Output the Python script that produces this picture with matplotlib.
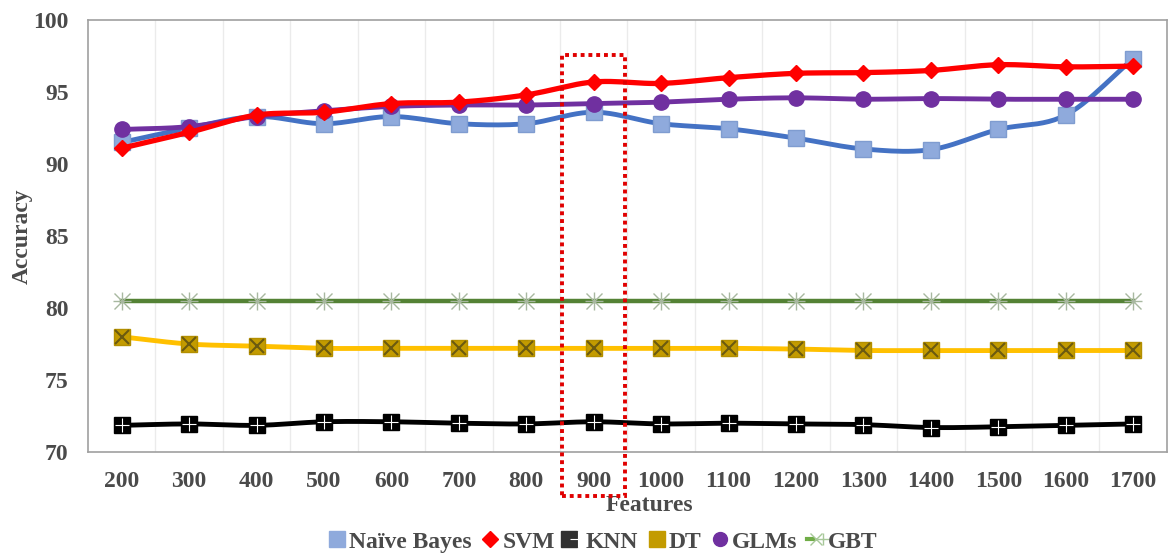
import numpy as np
import matplotlib.pyplot as plt
from matplotlib.lines import Line2D
from matplotlib.patches import Rectangle
from matplotlib.legend_handler import HandlerTuple

# -----------------------------
# Data
# -----------------------------
features = [200, 300, 400, 500, 600, 700, 800, 900, 1000, 1100, 1200, 1300, 1400, 1500, 1600, 1700]
naive_bayes = [91.5, 92.5, 93.3, 92.8, 93.3, 92.8, 92.8, 93.6, 92.8, 92.45, 91.8, 91.05, 91.0, 92.4, 93.4, 97.3]
svm = [91.1, 92.2, 93.4, 93.6, 94.2, 94.3, 94.8, 95.7, 95.6, 96.0, 96.3, 96.35, 96.5, 96.9, 96.75, 96.8]
knn = [71.85, 71.95, 71.85, 72.1, 72.1, 72.0, 71.95, 72.1, 71.95, 72.0, 71.95, 71.9, 71.7, 71.75, 71.85, 71.95]
dt = [78.0, 77.5, 77.35, 77.2, 77.2, 77.2, 77.2, 77.2, 77.2, 77.2, 77.15, 77.05, 77.05, 77.05, 77.05, 77.05]
glms = [92.4, 92.6, 93.3, 93.7, 94.0, 94.1, 94.1, 94.2, 94.3, 94.5, 94.6, 94.5, 94.55, 94.5, 94.5, 94.5]
gbt = [80.5] * 16
labels = ["Naïve Bayes", "SVM", "KNN", "DT", "GLMs", "GBT"]

plt.rcParams['font.family'] = ['Liberation Serif', 'DejaVu Serif']
plt.rcParams['font.weight'] = 'bold'

TXT = '#4A4A4A'
FS = 17


def smooth(x, y, n=12):
    # catmull-rom curve through the points (like Excel's smoothed line)
    x = np.asarray(x, float)
    y = np.asarray(y, float)
    px = np.concatenate([[2 * x[0] - x[1]], x, [2 * x[-1] - x[-2]]])
    py = np.concatenate([[2 * y[0] - y[1]], y, [2 * y[-1] - y[-2]]])
    xs, ys = [], []
    t = np.linspace(0, 1, n, endpoint=False)
    for i in range(1, len(px) - 2):
        for p, out in ((px, xs), (py, ys)):
            p0, p1, p2, p3 = p[i - 1], p[i], p[i + 1], p[i + 2]
            out.extend(0.5 * ((2 * p1) + (-p0 + p2) * t
                              + (2 * p0 - 5 * p1 + 4 * p2 - p3) * t ** 2
                              + (-p0 + 3 * p1 - 3 * p2 + p3) * t ** 3))
    xs.append(x[-1])
    ys.append(y[-1])
    return xs, ys


fig = plt.figure(figsize=(11.68, 5.57), dpi=100)
ax = fig.add_axes([0.0753, 0.1885, 0.9237, 0.7755])

idx = np.arange(len(features))

# GBT
ax.plot(*smooth(idx, gbt), color='#548235', lw=3.2, zorder=2)
ax.plot(idx, gbt, ls='none', marker='x', ms=11, mec='#A8B8A0', mew=1.0, zorder=3)
ax.plot(idx, gbt, ls='none', marker='+', ms=13, mec='#A8B8A0', mew=1.0, zorder=3)

# DT
ax.plot(*smooth(idx, dt), color='#FFC000', lw=3.5, zorder=2)
ax.plot(idx, dt, ls='none', marker='s', ms=12, mfc='#C39B00', mec='#B38F00', zorder=3)
ax.plot(idx, dt, ls='none', marker='x', ms=10, mec='#6B5A10', mew=1.5, zorder=4)

# KNN
ax.plot(*smooth(idx, knn), color='black', lw=3.5, zorder=2)
ax.plot(idx, knn, ls='none', marker='s', ms=11, mfc='black', mec='black', zorder=3)
ax.plot(idx, knn, ls='none', marker='+', ms=10, mec='white', mew=0.8, zorder=4)

# Naive Bayes
ax.plot(*smooth(idx, naive_bayes), color='#4472C4', lw=3.5, zorder=5)
ax.plot(idx, naive_bayes, ls='none', marker='s', ms=11, mfc='#8FAADC', mec='#7F9CD0', zorder=6)

# GLMs
ax.plot(*smooth(idx, glms), color='#7030A0', lw=3.5, zorder=7)
ax.plot(idx, glms, ls='none', marker='o', ms=11, mfc='#7030A0', mec='#7030A0', zorder=8)

# SVM
ax.plot(*smooth(idx, svm), color='#FF0000', lw=3.8, zorder=9)
ax.plot(idx, svm, ls='none', marker='D', ms=8.5, mfc='#FF0000', mec='#FF0000', zorder=10)

# highlight box around 900 features
box = Rectangle((6.53, 66.97), 0.94, 30.6, fill=False, ec='#E00000', lw=2.8,
                ls=(0, (1, 1)), clip_on=False, zorder=12)
ax.add_patch(box)

ax.set_xlim(-0.5, len(features) - 0.5)
ax.set_ylim(70, 100)
ax.set_yticks(range(70, 101, 5))
ax.set_xticks(idx)
ax.set_xticklabels([str(f) for f in features])
ax.set_xticks(np.arange(0.5, len(features) - 0.5), minor=True)
ax.grid(True, axis='x', which='minor', color='#EBEBEB', lw=1)
ax.tick_params(axis='both', which='both', length=0, labelsize=FS, labelcolor=TXT)
ax.tick_params(axis='x', pad=14)
ax.tick_params(axis='y', pad=14)
for lab in ax.get_xticklabels() + ax.get_yticklabels():
    lab.set_fontweight('bold')
for s in ax.spines.values():
    s.set_color('#A0A0A0')
    s.set_linewidth(1.2)

ax.set_xlabel("Features", fontsize=FS, fontweight='bold', color=TXT, labelpad=1)
ax.xaxis.set_label_coords(0.52, -0.1)
ax.set_ylabel("Accuracy", fontsize=FS, fontweight='bold', color=TXT, labelpad=0)

# legend
h_nb = Line2D([], [], ls='none', marker='s', ms=11, mfc='#8FAADC', mec='#8FAADC')
h_svm = Line2D([], [], ls='none', marker='D', ms=8, mfc='#FF0000', mec='#FF0000')
h_knn = (Line2D([], [], ls='none', marker='s', ms=11, mfc='#303030', mec='#303030'),
         Line2D([], [], ls='none', marker='+', ms=11, mec='white', mew=0.8))
h_dt = Line2D([], [], ls='none', marker='s', ms=11, mfc='#C39B00', mec='#C39B00')
h_glm = Line2D([], [], ls='none', marker='o', ms=10, mfc='#7030A0', mec='#7030A0')
h_gbt = (Line2D([], [], color='#70AD47', lw=3),
         Line2D([], [], ls='none', marker='x', ms=8, mec='#A8C89A', mew=1),
         Line2D([], [], ls='none', marker='+', ms=9, mec='#A8C89A', mew=1))
fig.legend([h_nb, h_svm, h_knn, h_dt, h_glm, h_gbt], labels,
           loc='center', bbox_to_anchor=(0.516, 0.027), ncol=6, frameon=False,
           handlelength=0.8, handletextpad=0.1, columnspacing=0.4,
           prop={'size': FS, 'weight': 'bold'}, labelcolor=TXT,
           handler_map={tuple: HandlerTuple(ndivide=None, pad=0)})

fig.savefig("out.png", dpi=100)
